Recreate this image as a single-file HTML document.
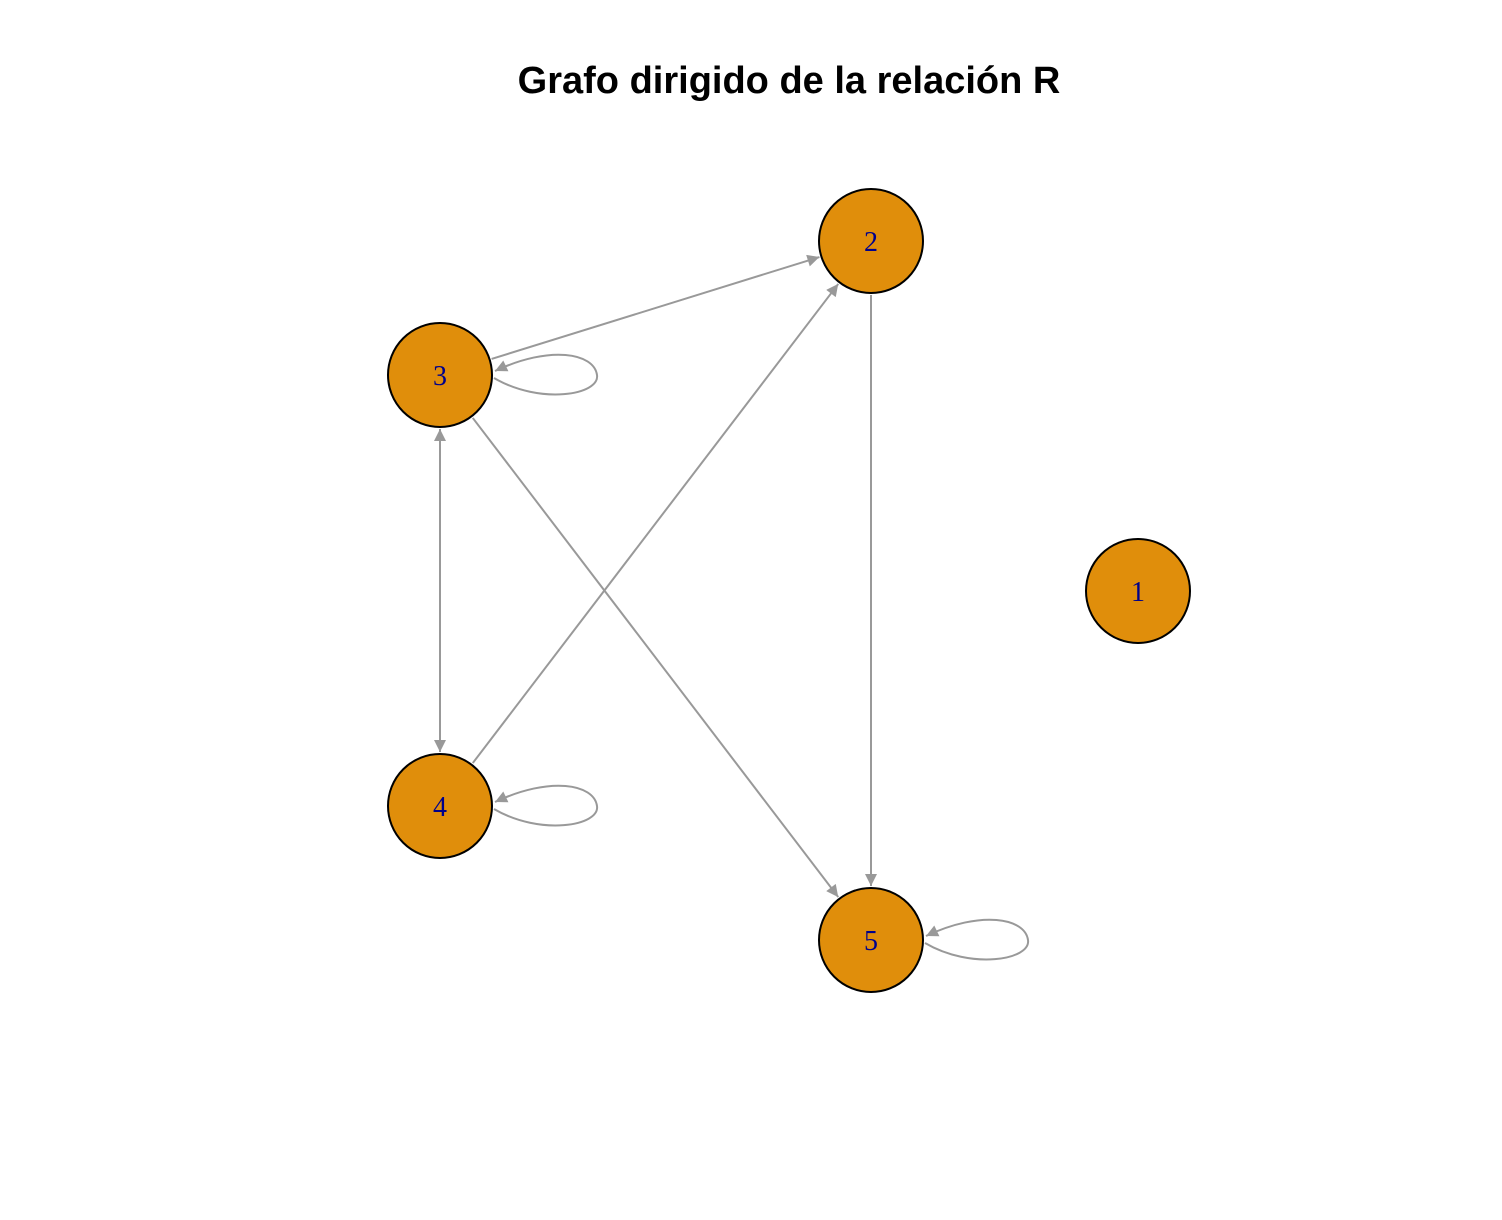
<!DOCTYPE html>
<html><head><meta charset="utf-8">
<style>
html,body{margin:0;padding:0;background:#fff;}
svg{display:block;}
</style></head>
<body>
<svg id="chart" width="1502" height="1220" viewBox="0 0 1502 1220" xmlns="http://www.w3.org/2000/svg">
<defs>
<marker id="arr" viewBox="0 0 10 10" refX="10" refY="5" markerWidth="17" markerHeight="12" markerUnits="userSpaceOnUse" orient="auto-start-reverse">
<path d="M0,0 L10,5 L0,10 z" fill="#999"/>
</marker>
</defs>
<text x="789" y="93" text-anchor="middle" font-family="Liberation Sans, sans-serif" font-weight="bold" font-size="38">Grafo dirigido de la relación R</text>
<g id="edges"></g>
<g id="nodes"></g>
</svg>
<script>
const nodeLabels = ["1","2","3","4","5"];
const nodeX = [1138, 871, 440, 440, 871];
const nodeY = [591, 241, 375, 806, 940];
const edgeFrom = [3, 3, 4, 3, 2];
const edgeTo   = [2, 4, 2, 5, 5];
const edgeBoth = [false, true, false, false, false];
const loops = [3, 4, 5];
const R = 52;
const NS = "http://www.w3.org/2000/svg";
const eg = document.getElementById('edges');
const ng = document.getElementById('nodes');
function idx(l){ return nodeLabels.indexOf(String(l)); }
edgeFrom.forEach((f, i) => {
  const a = idx(f), b = idx(edgeTo[i]);
  const x1 = nodeX[a], y1 = nodeY[a], x2 = nodeX[b], y2 = nodeY[b];
  const d = Math.hypot(x2 - x1, y2 - y1), ux = (x2 - x1) / d, uy = (y2 - y1) / d;
  const ln = document.createElementNS(NS, 'line');
  
  
  ln.setAttribute('x1', x1 + ux * (R + 2)); ln.setAttribute('y1', y1 + uy * (R + 2));
  ln.setAttribute('x2', x2 - ux * (R + 2)); ln.setAttribute('y2', y2 - uy * (R + 2));
  ln.setAttribute('stroke', '#999'); ln.setAttribute('stroke-width', '2');
  ln.setAttribute('marker-end', 'url(#arr)');
  if (edgeBoth[i]) ln.setAttribute('marker-start', 'url(#arr)');
  eg.appendChild(ln);
});
loops.forEach(l => {
  const k = idx(l), cx = nodeX[k], cy = nodeY[k];
  const p = document.createElementNS(NS, 'path');
  
  
  const sx = cx + R + 2, sy = cy + 3;
  p.setAttribute('d', `M${sx},${sy} C${cx + 100},${cy + 30} ${cx + 160},${cy + 20} ${cx + 157},${cy} C${cx + 154},${cy - 22} ${cx + 110},${cy - 30} ${cx + R + 3},${cy - 4}`);
  p.setAttribute('fill', 'none'); p.setAttribute('stroke', '#999'); p.setAttribute('stroke-width', '2');
  p.setAttribute('marker-end', 'url(#arr)');
  eg.appendChild(p);
});
nodeLabels.forEach((l, k) => {
  const c = document.createElementNS(NS, 'circle');
  
  
  c.setAttribute('cx', nodeX[k]); c.setAttribute('cy', nodeY[k]); c.setAttribute('r', R);
  c.setAttribute('fill', '#E08E0B'); c.setAttribute('stroke', '#000'); c.setAttribute('stroke-width', '2');
  ng.appendChild(c);
  const t = document.createElementNS(NS, 'text');
  
  
  t.setAttribute('x', nodeX[k]); t.setAttribute('y', nodeY[k] + 10);
  t.setAttribute('text-anchor', 'middle');
  t.setAttribute('font-family', 'Liberation Serif, serif');
  t.setAttribute('font-size', '28'); t.setAttribute('fill', '#00008B');
  t.textContent = l;
  ng.appendChild(t);
});
</script>
</body></html>
